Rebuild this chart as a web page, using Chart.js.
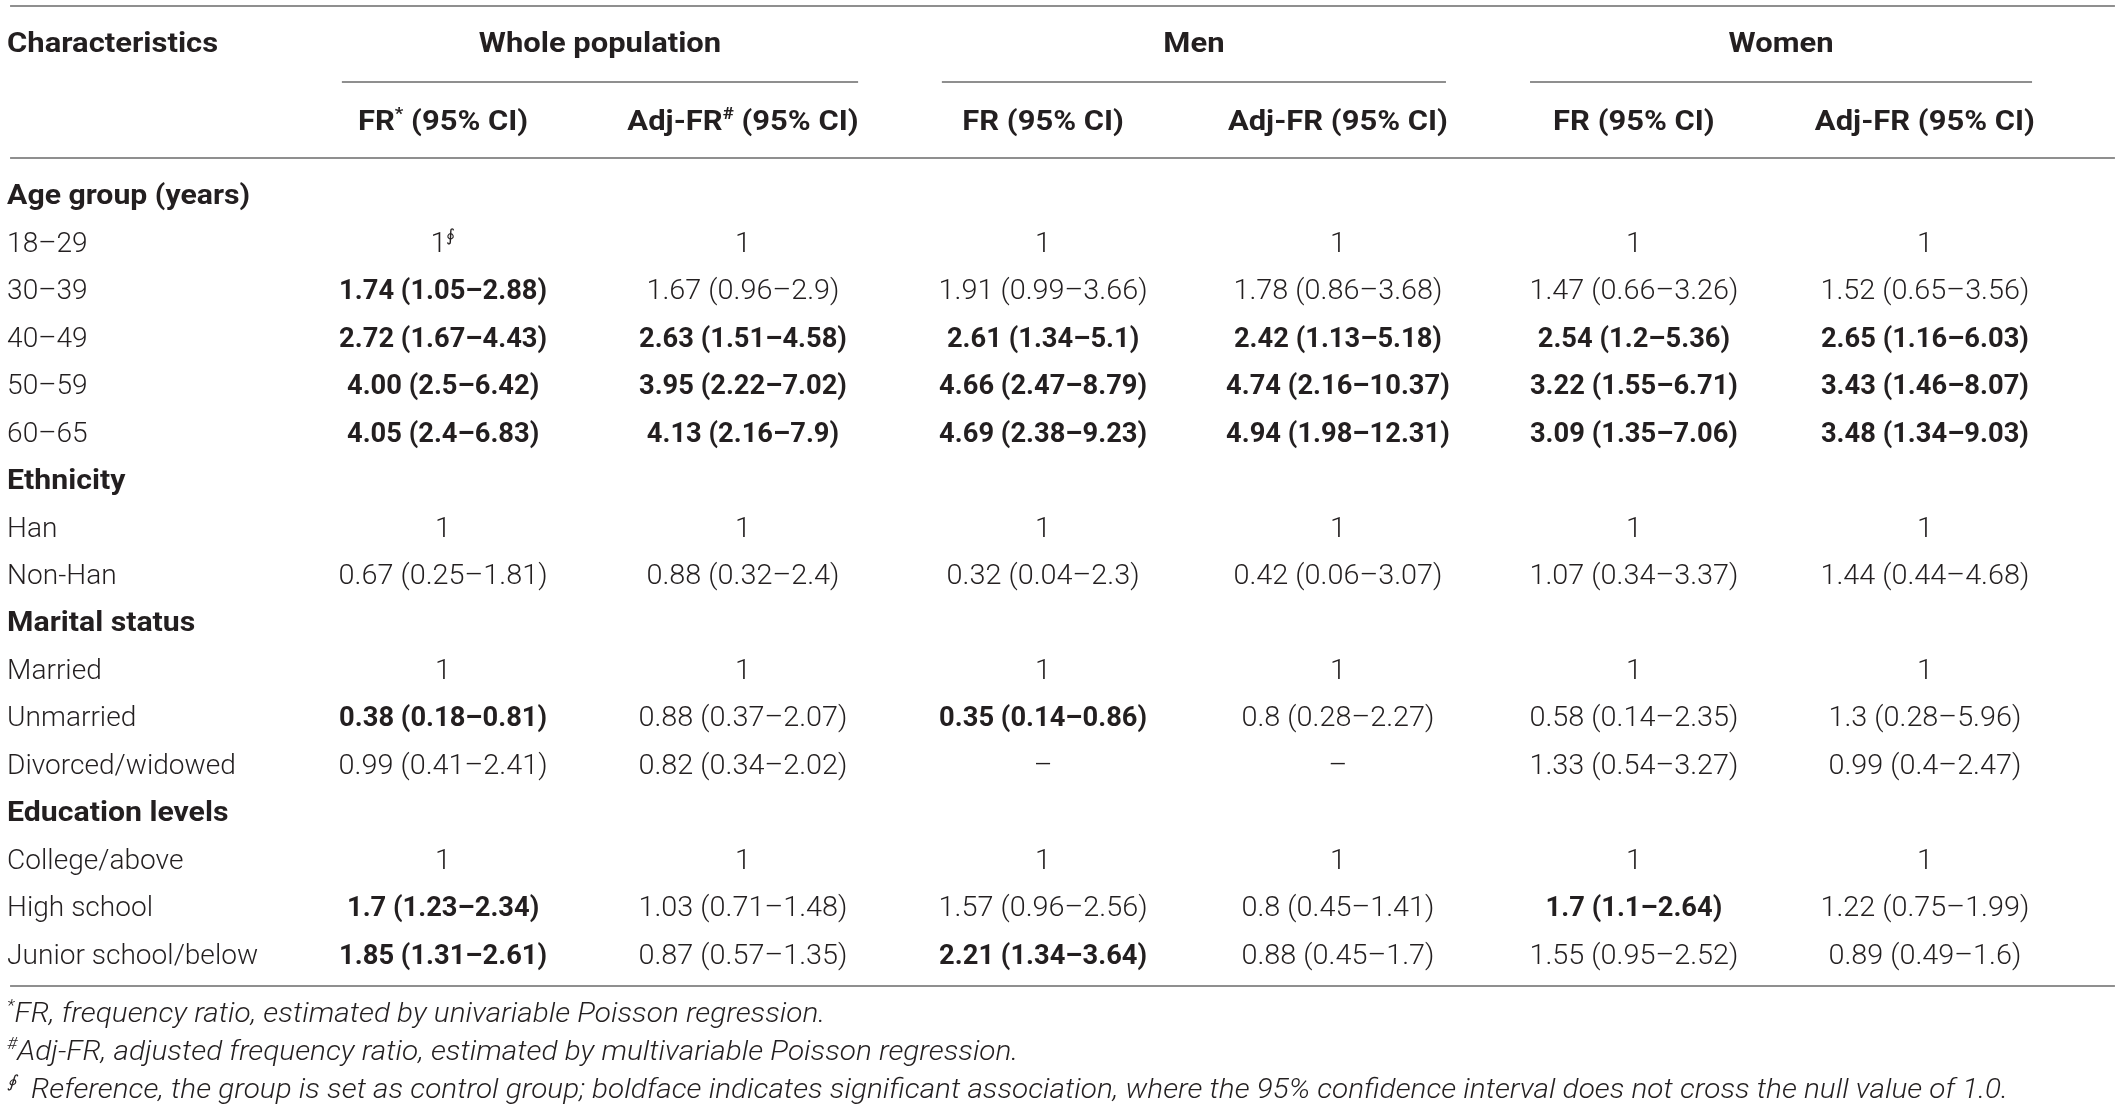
<!DOCTYPE html>
<html>
<head>
<meta charset="utf-8">
<script src="https://cdn.jsdelivr.net/npm/chart.js@4/dist/chart.umd.min.js"></script>
<style>
  html, body { margin: 0; padding: 0; background: #fff; }
  #wrap { width: 2122px; height: 1110px; }
</style>
</head>
<body>
<div id="wrap"><canvas id="tableChart" width="2122" height="1110"></canvas></div>
<script>
// row labels (section headers are bold)
const rowLabels = ['Age group (years)', '18–29', '30–39', '40–49', '50–59', '60–65',
    'Ethnicity', 'Han', 'Non-Han',
    'Marital status', 'Married', 'Unmarried', 'Divorced/widowed',
    'Education levels', 'College/above', 'High school', 'Junior school/below'];
const sectionRows = [0, 6, 9, 13];

const groupHeaders = ['Whole population', 'Men', 'Women'];
const columnHeaders = ['FR|*| (95% CI)', 'Adj-FR|#| (95% CI)', 'FR (95% CI)', 'Adj-FR (95% CI)', 'FR (95% CI)', 'Adj-FR (95% CI)'];

const wholeFR = [null, '1|∮|', '1.74 (1.05–2.88)', '2.72 (1.67–4.43)', '4.00 (2.5–6.42)', '4.05 (2.4–6.83)',
    null, '1', '0.67 (0.25–1.81)', null, '1', '0.38 (0.18–0.81)', '0.99 (0.41–2.41)',
    null, '1', '1.7 (1.23–2.34)', '1.85 (1.31–2.61)'];
const wholeAdj = [null, '1', '1.67 (0.96–2.9)', '2.63 (1.51–4.58)', '3.95 (2.22–7.02)', '4.13 (2.16–7.9)',
    null, '1', '0.88 (0.32–2.4)', null, '1', '0.88 (0.37–2.07)', '0.82 (0.34–2.02)',
    null, '1', '1.03 (0.71–1.48)', '0.87 (0.57–1.35)'];
const menFR = [null, '1', '1.91 (0.99–3.66)', '2.61 (1.34–5.1)', '4.66 (2.47–8.79)', '4.69 (2.38–9.23)',
    null, '1', '0.32 (0.04–2.3)', null, '1', '0.35 (0.14–0.86)', '–',
    null, '1', '1.57 (0.96–2.56)', '2.21 (1.34–3.64)'];
const menAdj = [null, '1', '1.78 (0.86–3.68)', '2.42 (1.13–5.18)', '4.74 (2.16–10.37)', '4.94 (1.98–12.31)',
    null, '1', '0.42 (0.06–3.07)', null, '1', '0.8 (0.28–2.27)', '–',
    null, '1', '0.8 (0.45–1.41)', '0.88 (0.45–1.7)'];
const womenFR = [null, '1', '1.47 (0.66–3.26)', '2.54 (1.2–5.36)', '3.22 (1.55–6.71)', '3.09 (1.35–7.06)',
    null, '1', '1.07 (0.34–3.37)', null, '1', '0.58 (0.14–2.35)', '1.33 (0.54–3.27)',
    null, '1', '1.7 (1.1–2.64)', '1.55 (0.95–2.52)'];
const womenAdj = [null, '1', '1.52 (0.65–3.56)', '2.65 (1.16–6.03)', '3.43 (1.46–8.07)', '3.48 (1.34–9.03)',
    null, '1', '1.44 (0.44–4.68)', null, '1', '1.3 (0.28–5.96)', '0.99 (0.4–2.47)',
    null, '1', '1.22 (0.75–1.99)', '0.89 (0.49–1.6)'];

const footnotes = [
    '|*|FR, frequency ratio, estimated by univariable Poisson regression.',
    '|#|Adj-FR, adjusted frequency ratio, estimated by multivariable Poisson regression.',
    '|∮|  Reference, the group is set as control group; boldface indicates significant association, where the 95% confidence interval does not cross the null value of 1.0.'
];

// layout (scale units: x = column slot, y = row slot)
const colSlots = [0.997, 2.010, 3.024, 4.020, 5.020, 6.003];
const labelSlot = -0.476;
const ruleSpan = [-0.466, 6.645];
const groupSpans = [[0.655, 2.399], [2.682, 4.385], [4.669, 6.365]];
const groupRow = -3.214, subRow = -1.57;
const ruleRows = { top: -3.973, group: -2.371, head: -0.769, bottom: 16.691 };
const noteRows = [17.229, 18.03, 18.83];

const columns = [wholeFR, wholeAdj, menFR, menAdj, womenFR, womenAdj];
const INK = '#231f20';
const FONT = '"Roboto", "Liberation Sans", sans-serif';
const SIZE = 28;

// text styles: weight, slant, and a sample string with its width in the reference
const styles = {
    head:     { weight: 700, slant: 'normal', sample: 'Characteristics', width: 211 },
    section:  { weight: 700, slant: 'normal', sample: 'Age group (years)', width: 243 },
    rowLabel: { weight: 300, slant: 'normal', sample: 'Junior school/below', width: 251 },
    bold:     { weight: 700, slant: 'normal', sample: '1.74 (1.05–2.88)', width: 208 },
    light:    { weight: 300, slant: 'normal', sample: '0.67 (0.25–1.81)', width: 209 },
    note:     { weight: 300, slant: 'italic', sample: 'Reference, the group is set as control group; boldface indicates significant association, where the 95% confidence interval does not cross the null value of 1.0.', width: 1977 }
};

const isSignificant = (s) => {
    const m = /\(([\d.]+)–([\d.]+)\)/.exec(s || '');
    if (!m) return false;
    const lo = parseFloat(m[1]), hi = parseFloat(m[2]);
    return lo > 1 || hi < 1;
};

// 'a|sup|b' -> parts
const parseRich = (s) => s.split('|').map((t, i) => ({ t: t, sup: i % 2 === 1 })).filter(p => p.t !== '');

const drawRich = (ctx, s, x, y, style, align) => {
    const st = styles[style];
    const fontFor = (p) => `${st.slant} ${st.weight} ${p.sup ? Math.round(SIZE * 0.62) : SIZE}px ${FONT}`;
    if (!st.sx) {
        ctx.font = fontFor({ sup: false });
        st.sx = st.width / ctx.measureText(st.sample).width;
    }
    const parts = parseRich(s);
    let w = 0;
    parts.forEach(p => { ctx.font = fontFor(p); w += ctx.measureText(p.t).width; });
    ctx.save();
    ctx.translate(align === 'center' ? x - w * st.sx / 2 : x, y + SIZE * 0.355);
    ctx.scale(st.sx, 1);
    ctx.textAlign = 'left';
    ctx.textBaseline = 'alphabetic';
    let cx = 0;
    parts.forEach(p => {
        ctx.font = fontFor(p);
        ctx.fillText(p.t, cx, p.sup ? -SIZE * 0.38 : 0);
        cx += ctx.measureText(p.t).width;
    });
    ctx.restore();
};

const datasets = columns.map((col, c) => ({
    label: columnHeaders[c],
    data: col.map((v, r) => v === null ? null : { x: colSlots[c], y: r, text: v })
        .filter(d => d !== null),
    pointRadius: 0
}));
datasets.push({
    label: 'rows',
    data: rowLabels.map((v, r) => ({ x: labelSlot, y: r, text: v })),
    pointRadius: 0
});

const tablePlugin = {
    id: 'tablePlugin',
    afterDatasetsDraw(chart) {
        const ctx = chart.ctx;
        const xs = chart.scales.x, ys = chart.scales.y;
        ctx.save();
        ctx.fillStyle = INK;

        // rules
        ctx.strokeStyle = '#8f8f8f';
        ctx.lineWidth = 2;
        const hline = (u0, u1, r) => {
            const y = Math.round(ys.getPixelForValue(r));
            ctx.beginPath();
            ctx.moveTo(xs.getPixelForValue(u0), y);
            ctx.lineTo(xs.getPixelForValue(u1), y);
            ctx.stroke();
        };
        hline(ruleSpan[0], ruleSpan[1], ruleRows.top);
        hline(ruleSpan[0], ruleSpan[1], ruleRows.head);
        hline(ruleSpan[0], ruleSpan[1], ruleRows.bottom);
        groupSpans.forEach(sp => hline(sp[0], sp[1], ruleRows.group));

        // headers
        drawRich(ctx, 'Characteristics', xs.getPixelForValue(labelSlot), ys.getPixelForValue(groupRow), 'head', 'left');
        groupHeaders.forEach((g, i) => {
            const cx = (xs.getPixelForValue(groupSpans[i][0]) + xs.getPixelForValue(groupSpans[i][1])) / 2;
            drawRich(ctx, g, cx, ys.getPixelForValue(groupRow), 'head', 'center');
        });
        columnHeaders.forEach((h, c) => {
            drawRich(ctx, h, xs.getPixelForValue(colSlots[c]), ys.getPixelForValue(subRow), 'head', 'center');
        });

        // cells
        chart.data.datasets.forEach((ds, i) => {
            const meta = chart.getDatasetMeta(i);
            meta.data.forEach((el, j) => {
                const d = ds.data[j];
                if (ds.label === 'rows') {
                    drawRich(ctx, d.text, el.x, el.y, sectionRows.includes(d.y) ? 'section' : 'rowLabel', 'left');
                } else {
                    drawRich(ctx, d.text, el.x, el.y, isSignificant(d.text) ? 'bold' : 'light', 'center');
                }
            });
        });

        // footnotes
        footnotes.forEach((f, i) => {
            drawRich(ctx, f, xs.getPixelForValue(labelSlot), ys.getPixelForValue(noteRows[i]), 'note', 'left');
        });
        ctx.restore();
    }
};

new Chart(document.getElementById('tableChart').getContext('2d'), {
    type: 'scatter',
    data: { datasets: datasets },
    options: {
        responsive: false,
        animation: false,
        devicePixelRatio: 1,
        layout: { padding: 0 },
        plugins: { legend: { display: false }, tooltip: { enabled: false } },
        scales: {
            x: { type: 'linear', display: false, min: -0.5, max: 6.6689 },
            y: { type: 'linear', display: false, reverse: true, min: -4.099, max: 19.294 }
        }
    },
    plugins: [tablePlugin]
});
</script>
</body>
</html>
